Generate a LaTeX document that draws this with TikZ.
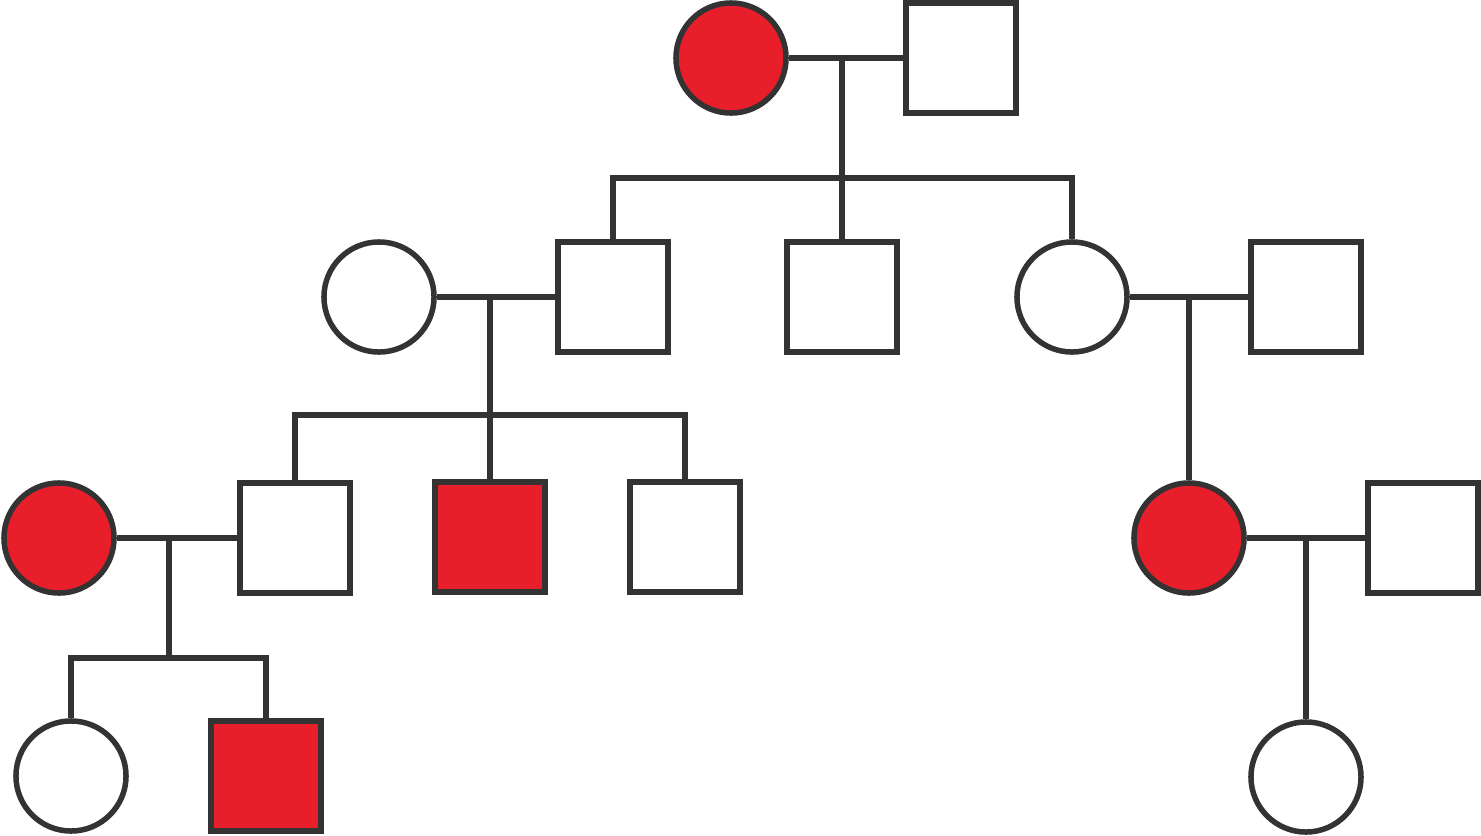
\documentclass[tikz,border=0pt]{standalone}
\usepackage{tikz}
\usetikzlibrary{calc}
\definecolor{pedred}{RGB}{232,31,42}
\definecolor{pedgray}{RGB}{51,51,51}
\tikzset{
  female/.style={circle, draw=pedgray, line width=0.055cm, minimum size=1.10cm, inner sep=0pt, fill=white},
  male/.style={rectangle, draw=pedgray, line width=0.055cm, minimum size=1.10cm, inner sep=0pt, fill=white},
  affected/.style={fill=pedred},
  link/.style={draw=pedgray, line width=0.055cm}
}

\begin{document}
\begin{tikzpicture}[x=0.01cm, y=-0.01cm]
                \useasboundingbox (0,0) rectangle (1481,836);
                % generation I
                \node[female, affected] (IA) at (731,58) {};
                \node[male] (IB) at (961,58) {};
                % generation II
                \node[female] (IIA) at (379,297) {};
                \node[male] (IIB) at (613,297) {};
                \node[male] (IIC) at (842,297) {};
                \node[female] (IID) at (1072,297) {};
                \node[male] (IIE) at (1306,297) {};
                % generation III
                \node[female, affected] (IIIA) at (59,538) {};
                \node[male] (IIIB) at (295,538) {};
                \node[male, affected] (IIIC) at (490,537) {};
                \node[male] (IIID) at (685,537) {};
                \node[female, affected] (IIIE) at (1189,538) {};
                \node[male] (IIIF) at (1423,538) {};
                % generation IV
                \node[female] (IVA) at (71,776) {};
                \node[male, affected] (IVB) at (266,776) {};
                \node[female] (IVC) at (1306,777) {};

                % couple I and its children
                \coordinate (MI) at (842,58);
                \coordinate (SI) at (842,178);
                \draw[link] (IA.east) -- (IB.west);
                \draw[link] (MI) -- (IIC.north);
                \draw[link] (IIB.north) |- (SI) -| (IID.north);
                % couples of generation II
                \coordinate (MIIa) at (490,297);
                \coordinate (SIIa) at (490,415);
                \draw[link] (IIA.east) -- (IIB.west);
                \draw[link] (MIIa) -- (IIIC.north);
                \draw[link] (IIIB.north) |- (SIIa) -| (IIID.north);
                \coordinate (MIIb) at (1189,297);
                \draw[link] (IID.east) -- (IIE.west);
                \draw[link] (MIIb) -- (IIIE.north);
                % couples of generation III
                \coordinate (MIIIa) at (169,538);
                \coordinate (SIIIa) at (169,658);
                \draw[link] (IIIA.east) -- (IIIB.west);
                \draw[link] (MIIIa) -- (SIIIa);
                \draw[link] (IVA.north) |- (SIIIa) -| (IVB.north);
                \coordinate (MIIIb) at (1306,538);
                \draw[link] (IIIE.east) -- (IIIF.west);
                \draw[link] (MIIIb) -- (IVC.north);
            \end{tikzpicture}
\end{document}
